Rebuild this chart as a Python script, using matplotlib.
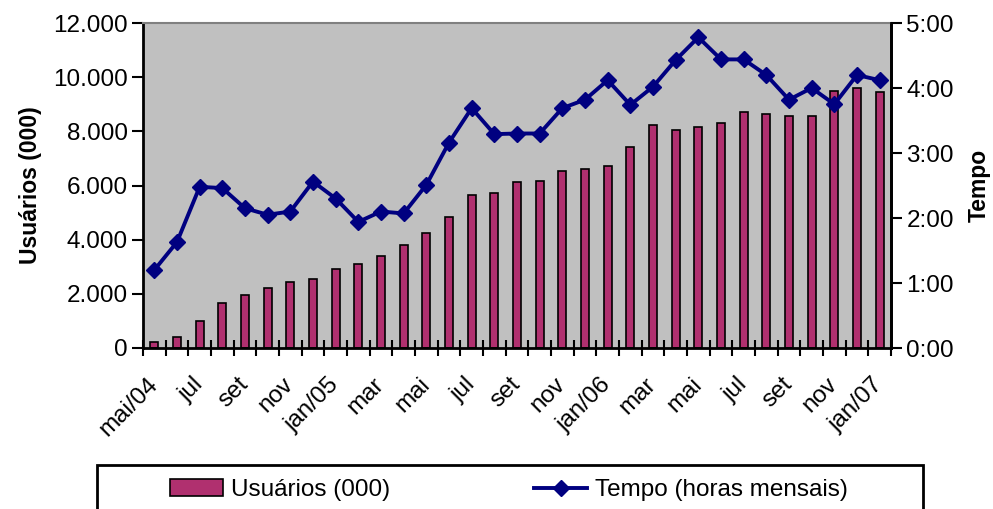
import matplotlib
matplotlib.use("Agg")
import matplotlib.pyplot as plt
from matplotlib.patches import Rectangle, Patch
from matplotlib.lines import Line2D
from matplotlib.ticker import FuncFormatter, FixedLocator
from matplotlib.transforms import ScaledTranslation
import numpy as np

plt.rcParams['font.family'] = ['Liberation Sans', 'DejaVu Sans']

# Monthly series, mai/04 .. jan/07
months = ["mai/04", "jun", "jul", "ago", "set", "out", "nov", "dez",
          "jan/05", "fev", "mar", "abr", "mai", "jun", "jul", "ago", "set", "out", "nov", "dez",
          "jan/06", "fev", "mar", "abr", "mai", "jun", "jul", "ago", "set", "out", "nov", "dez",
          "jan/07"]
usuarios = [230, 400, 1000, 1680, 1950, 2200, 2450, 2560, 2930, 3120, 3400, 3800,
            4230, 4820, 5650, 5730, 6140, 6160, 6530, 6600, 6730, 7430, 8230, 8050,
            8150, 8300, 8720, 8640, 8550, 8550, 9490, 9590, 9460]
tempo_horas = [1.20, 1.63, 2.48, 2.46, 2.15, 2.05, 2.10, 2.56, 2.30, 1.94, 2.10, 2.07,
               2.51, 3.16, 3.69, 3.29, 3.30, 3.30, 3.69, 3.82, 4.12, 3.74, 4.02, 4.43,
               4.78, 4.44, 4.44, 4.20, 3.82, 4.00, 3.75, 4.20, 4.12]

bar_color = "#B0306F"
line_color = "#000080"
fs = 17.5

W, H = 993, 509
fig = plt.figure(figsize=(W / 100, H / 100), dpi=100)
ax = fig.add_axes([143 / W, (H - 348) / H, (891 - 143) / W, (348 - 23) / H])
ax.set_facecolor("#C0C0C0")

x = np.arange(len(months))
ax.bar(x, usuarios, width=0.36, color=bar_color, edgecolor="black", linewidth=1.2, zorder=2)
ax.set_xlim(-0.5, len(months) - 0.5)
ax.set_ylim(0, 12000)
ax.set_yticks(np.arange(0, 12001, 2000))
ax.yaxis.set_major_formatter(FuncFormatter(lambda v, p: f"{int(v):,}".replace(",", ".")))
ax.set_ylabel("Usuários (000)", fontsize=16.5, fontweight="bold", labelpad=8)

# category boundaries as ticks, every other month labelled
ax.xaxis.set_minor_locator(FixedLocator(np.arange(-0.5, len(months), 1.0)))
ax.set_xticks(x[::2])
ax.set_xticklabels(months[::2], rotation=45, ha="right", va="center",
                   rotation_mode="anchor", fontsize=fs)
shift = ScaledTranslation(-7 / 72, -2 / 72, fig.dpi_scale_trans)
for lbl in ax.get_xticklabels():
    lbl.set_transform(lbl.get_transform() + shift)
ax.tick_params(axis="x", which="major", length=0, pad=24)
ax.tick_params(axis="x", which="minor", direction="inout", length=12, width=1.5)
ax.tick_params(axis="y", direction="out", length=8, width=1.5, labelsize=fs, pad=3)

for side in ("left", "bottom"):
    ax.spines[side].set_linewidth(2)
ax.spines["top"].set_color("#808080")
ax.spines["top"].set_linewidth(1.5)
ax.spines["right"].set_linewidth(2)

ax2 = ax.twinx()
ax2.plot(x, tempo_horas, color=line_color, linewidth=2.8, marker="D", markersize=8,
         markeredgecolor=line_color, zorder=3)
ax2.set_ylim(0, 5)
ax2.set_yticks(range(0, 6))
ax2.yaxis.set_major_formatter(FuncFormatter(lambda v, p: f"{int(v)}:00"))
ax2.tick_params(axis="y", direction="out", length=8, width=1.5, labelsize=fs, pad=3)
ax2.set_ylabel("Tempo", fontsize=16.5, fontweight="bold", labelpad=10)
ax2.spines["right"].set_linewidth(2)
ax2.spines["top"].set_visible(False)
ax2.spines["left"].set_visible(False)
ax2.spines["bottom"].set_visible(False)

# legend frame running off the bottom edge
fig.patches.append(Rectangle((97 / W, -0.05), (923 - 97) / W, (H - 465) / H + 0.05,
                             transform=fig.transFigure, fill=False,
                             edgecolor="black", linewidth=2))
handles = [Patch(facecolor=bar_color, edgecolor="black", linewidth=1.2),
           Line2D([], [], color=line_color, linewidth=2.8, marker="D", markersize=8)]
fig.legend(handles, ["Usuários (000)", "Tempo (horas mensais)"], ncol=2,
           loc="center left", bbox_to_anchor=(148 / W, (H - 490) / H),
           frameon=False, fontsize=fs, handlelength=2.2, handletextpad=0.33,
           columnspacing=5.9)

fig.savefig("out.png", dpi=100)
